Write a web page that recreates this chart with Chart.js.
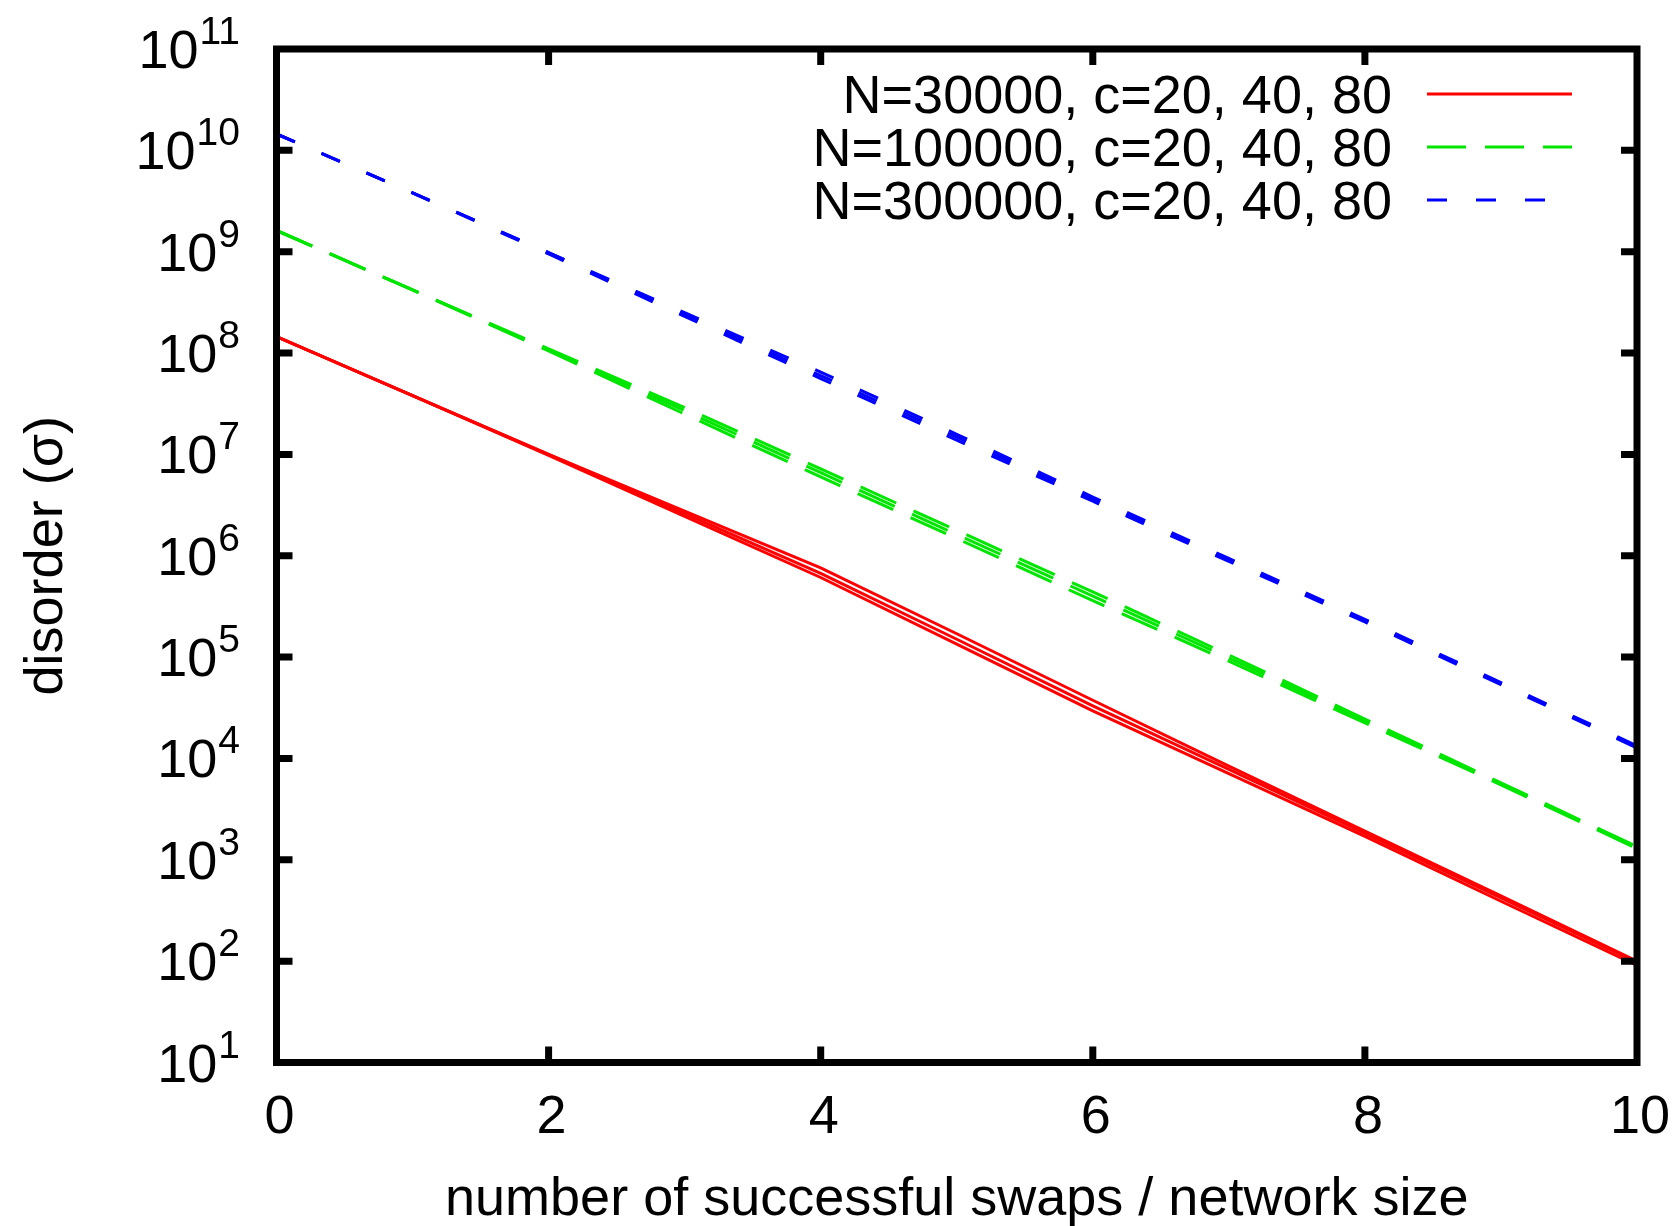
<!DOCTYPE html>
<html>
<head>
<meta charset="utf-8">
<title>disorder vs swaps</title>
<script src="https://cdn.jsdelivr.net/npm/chart.js@4.4.1/dist/chart.umd.min.js"></script>
<style>
    html, body { margin: 0; padding: 0; background: #fff; }
    #disorder-chart { display: block; }
</style>
</head>
<body>
<canvas id="disorder-chart" width="1679" height="1226"></canvas>
<script>
        // swaps per node (x) and disorder sigma for each network size / degree
        const swaps = [0, 1, 2, 3, 4, 5, 6, 7, 8, 9, 10];

        const n30kC20 = [1.45e8, 3.8e7, 1.0e7, 2.75e6, 7.6e5, 1.7e5, 3.75e4, 8.4e3, 1.92e3, 440, 100];
        const n30kC40 = [1.45e8, 3.8e7, 1.0e7, 2.6e6, 6.7e5, 1.5e5, 3.3e4, 7.8e3, 1.82e3, 420, 97];
        const n30kC80 = [1.45e8, 3.8e7, 9.8e6, 2.45e6, 6.1e5, 1.34e5, 2.95e4, 7.1e3, 1.7e3, 390, 91];

        const n100kC20 = [1.62e9, 4.2e8, 1.1e8, 2.9e7, 7.2e6, 1.78e6, 4.4e5, 1.05e5, 2.45e4, 5.75e3, 1.35e3];
        const n100kC40 = [1.62e9, 4.2e8, 1.07e8, 2.7e7, 6.6e6, 1.62e6, 4.0e5, 9.8e4, 2.35e4, 5.6e3, 1.32e3];
        const n100kC80 = [1.62e9, 4.2e8, 1.05e8, 2.5e7, 6.0e6, 1.48e6, 3.6e5, 9.1e4, 2.24e4, 5.5e3, 1.29e3];

        const n300kC20 = [1.45e10, 3.8e9, 9.8e8, 2.5e8, 6.5e7, 1.58e7, 3.8e6, 9.4e5, 2.36e5, 5.6e4, 1.33e4];
        const n300kC40 = [1.45e10, 3.8e9, 9.8e8, 2.4e8, 6.0e7, 1.48e7, 3.6e6, 9.1e5, 2.29e5, 5.5e4, 1.29e4];
        const n300kC80 = [1.45e10, 3.8e9, 9.5e8, 2.3e8, 5.6e7, 1.38e7, 3.45e6, 8.8e5, 2.22e5, 5.35e4, 1.27e4];

        const groupLabels = ['N=30000, c=20, 40, 80', 'N=100000, c=20, 40, 80', 'N=300000, c=20, 40, 80'];
        const groupColors = ['rgb(255,0,0)', 'rgb(0,230,0)', 'rgb(0,0,255)'];
        const groupDashes = [[], [39, 19], [20, 29]];

        const xTicks = [0, 2, 4, 6, 8, 10];
        const yExponents = [1, 2, 3, 4, 5, 6, 7, 8, 9, 10, 11];

        const FONT = '"Liberation Sans", Arial, Helvetica, sans-serif';

        function points(values) {
            return values.map((v, i) => ({ x: swaps[i], y: v }));
        }

        function makeDataset(values, group, label) {
            return {
                label: label,
                data: points(values),
                borderColor: groupColors[group],
                borderDash: groupDashes[group],
                borderWidth: 3,
                pointRadius: 0,
                tension: 0,
                fill: false,
                group: group
            };
        }

        const datasets = [
            makeDataset(n30kC20, 0, 'N=30000, c=20'),
            makeDataset(n30kC40, 0, 'N=30000, c=40'),
            makeDataset(n30kC80, 0, 'N=30000, c=80'),
            makeDataset(n100kC20, 1, 'N=100000, c=20'),
            makeDataset(n100kC40, 1, 'N=100000, c=40'),
            makeDataset(n100kC80, 1, 'N=100000, c=80'),
            makeDataset(n300kC20, 2, 'N=300000, c=20'),
            makeDataset(n300kC40, 2, 'N=300000, c=40'),
            makeDataset(n300kC80, 2, 'N=300000, c=80')
        ];

        // gnuplot-style frame: thick border, inward ticks, 10^n labels, key at top right
        const framePlugin = {
            id: 'frame',
            afterDraw(chart) {
                const ctx = chart.ctx;
                const area = chart.chartArea;
                const xs = chart.scales.x;
                const ys = chart.scales.y;
                const tickLen = 16;

                ctx.save();
                ctx.strokeStyle = '#000';
                ctx.lineWidth = 7;
                ctx.lineCap = 'butt';

                // ticks
                ctx.beginPath();
                xTicks.forEach(t => {
                    if (t === 0 || t === 10) return;
                    const px = xs.getPixelForValue(t);
                    ctx.moveTo(px, area.bottom);
                    ctx.lineTo(px, area.bottom - tickLen);
                    ctx.moveTo(px, area.top);
                    ctx.lineTo(px, area.top + tickLen);
                });
                yExponents.forEach(e => {
                    if (e === 1 || e === 11) return;
                    const py = ys.getPixelForValue(Math.pow(10, e));
                    ctx.moveTo(area.left, py);
                    ctx.lineTo(area.left + tickLen, py);
                    ctx.moveTo(area.right, py);
                    ctx.lineTo(area.right - tickLen, py);
                });
                ctx.stroke();

                // border
                ctx.strokeRect(area.left, area.top, area.right - area.left, area.bottom - area.top);

                ctx.fillStyle = '#000';

                // y tick labels 10^n
                yExponents.forEach(e => {
                    const py = ys.getPixelForValue(Math.pow(10, e));
                    const right = 240;
                    ctx.textAlign = 'right';
                    ctx.textBaseline = 'alphabetic';
                    ctx.font = '39px ' + FONT;
                    const exp = String(e);
                    const expW = ctx.measureText(exp).width;
                    ctx.fillText(exp, right, py - 5);
                    ctx.font = '54px ' + FONT;
                    ctx.fillText('10', right - expW - 1, py + 19);
                });

                // x tick labels
                ctx.font = '54px ' + FONT;
                ctx.textAlign = 'center';
                ctx.textBaseline = 'alphabetic';
                xTicks.forEach(t => {
                    ctx.fillText(String(t), xs.getPixelForValue(t) + 3, 1133);
                });

                // axis titles
                ctx.fillText('number of successful swaps / network size', (area.left + area.right) / 2, 1215);
                ctx.save();
                ctx.translate(62, (area.top + area.bottom) / 2);
                ctx.rotate(-Math.PI / 2);
                ctx.fillText('disorder (\u03c3)', 0, 0);
                ctx.restore();

                // key
                const rowY = [94, 147, 200];
                groupLabels.forEach((label, g) => {
                    ctx.font = '54px ' + FONT;
                    ctx.textAlign = 'right';
                    ctx.fillStyle = '#000';
                    ctx.fillText(label, 1392, rowY[g] + 19);
                    ctx.beginPath();
                    ctx.strokeStyle = groupColors[g];
                    ctx.lineWidth = 3;
                    ctx.setLineDash(groupDashes[g]);
                    ctx.moveTo(1427, rowY[g]);
                    ctx.lineTo(1572, rowY[g]);
                    ctx.stroke();
                    ctx.setLineDash([]);
                });

                ctx.restore();
            }
        };

        const chart = new Chart(document.getElementById('disorder-chart').getContext('2d'), {
            type: 'line',
            data: { datasets: datasets },
            options: {
                responsive: false,
                animation: false,
                devicePixelRatio: 1,
                layout: {
                    padding: { left: 276.5, top: 49, right: 42, bottom: 163.5 }
                },
                plugins: {
                    legend: { display: false },
                    tooltip: { enabled: false }
                },
                scales: {
                    x: { type: 'linear', min: 0, max: 10, display: false },
                    y: { type: 'logarithmic', min: 10, max: 1e11, display: false }
                }
            },
            plugins: [framePlugin]
        });
</script>
</body>
</html>
